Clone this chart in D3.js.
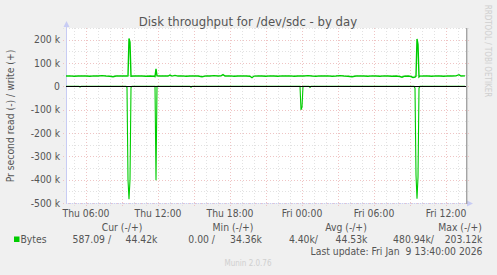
<!DOCTYPE html>
<html><head><meta charset="utf-8">
<script src="https://cdn.jsdelivr.net/npm/d3@7"></script>
<style>
html,body{margin:0;padding:0;background:#f0f0f0;}
svg{display:block;}
</style></head>
<body>
<svg id="c" width="497" height="275"></svg>
<script>
// ---- data (values in thousands of bytes per second; time = minutes after Thu 04:20) ----
const title = "Disk throughput for /dev/sdc - by day";
const yLabel = "Pr second read (-) / write (+)";
const yTickValues = [200, 100, 0, -100, -200, -300, -400, -500];
const yTickLabels = ["200 k", "100 k", "0", "-100 k", "-200 k", "-300 k", "-400 k", "-500 k"];
const xTickLabels = ["Thu 06:00", "Thu 12:00", "Thu 18:00", "Fri 00:00", "Fri 06:00", "Fri 12:00"];

const writeSeries = [
  [0,44],[20,45],[40,43],[60,44],[80,45],[100,44],[120,43],[140,45],[160,44],[180,46],
  [200,44],[220,43],[235,41],[250,44],[270,45],[290,44],[305,44],[310,45],[315,205],[320,190],
  [325,43],[340,44],[360,45],[380,44],[400,43],[420,44],[440,43],[445,42],[450,75],[455,45],
  [470,44],[490,45],[510,44],[520,48],[530,44],[545,47],[560,44],[580,45],[600,43],[620,44],
  [640,45],[660,44],[680,41],[700,45],[720,44],[740,46],[760,44],[775,45],[785,50],[795,44],
  [820,45],[840,43],[860,44],[880,45],[900,44],[920,43],[930,37],[940,44],[960,45],[980,44],
  [1000,43],[1020,45],[1040,44],[1060,43],[1080,45],[1100,44],[1120,45],[1140,43],[1160,44],[1175,45],
  [1190,44],[1210,46],[1230,44],[1250,43],[1270,45],[1290,44],[1310,45],[1330,43],[1350,44],[1370,46],
  [1390,44],[1410,43],[1430,41],[1450,44],[1470,45],[1490,44],[1510,43],[1530,45],[1550,44],[1570,43],
  [1590,45],[1610,44],[1630,43],[1650,44],[1670,42],[1680,39],[1690,43],[1710,44],[1725,42],[1735,38],
  [1745,40],[1750,44],[1755,203],[1760,180],[1765,40],[1770,44],[1790,45],[1810,44],[1830,43],[1850,45],
  [1870,44],[1890,43],[1910,45],[1930,44],[1950,45],[1965,50],[1975,44],[1995,45]
];
const readSeries = [
  [0,0],[65,0],[70,-3],[75,0],[300,0],[305,-5],[310,-400],[315,-484],[320,-400],[325,-5],
  [330,0],[445,0],[450,-403],[455,0],[620,0],[625,-4],[630,0],[1170,0],[1175,-101],[1180,-90],
  [1185,0],[1215,0],[1220,-5],[1225,0],[1740,0],[1745,-8],[1750,-380],[1755,-482],[1760,-390],[1765,-8],
  [1770,0],[1995,0]
];

const legendHeaders = ["Cur (-/+)", "Min (-/+)", "Avg (-/+)", "Max (-/+)"];
const legendName = "Bytes";
const legendRead = ["587.09 /", "0.00 /", "4.40k/", "480.94k/"];
const legendWrite = ["44.42k", "34.36k", "44.53k", "203.12k"];
const lastUpdate = "Last update: Fri Jan  9 13:40:00 2026";
const footer = "Munin 2.0.76";
const vendor = "RRDTOOL / TOBI OETIKER";

// ---- drawing ----
const FONT = "'DejaVu Sans Condensed','DejaVu Sans',sans-serif";
const svg = d3.select("#c");
const start = new Date(2026, 0, 8, 4, 20);
const end = new Date(2026, 0, 9, 13, 40);
const toDate = m => new Date(start.getTime() + m * 60000);

const L = 66, R = 466, T = 28, B = 203;
const x = d3.scaleTime().domain([start, end]).range([L, R]);
const y = d3.scaleLinear().domain([-500, 250]).range([B, T]);
const px = v => Math.round(v) + 0.5;

svg.append("rect").attr("width", 497).attr("height", 275).attr("fill", "#f0f0f0");
svg.append("rect").attr("x", L).attr("y", T).attr("width", R - L).attr("height", B - T).attr("fill", "#ffffff");

const MINOR = "#e2e2e2", MAJOR = "#efc4c4";
// horizontal grid
const yMinor = y.ticks(15);
svg.append("g").selectAll("line").data(yMinor).join("line")
  .attr("x1", L - 3).attr("x2", R + 3)
  .attr("y1", d => px(y(d))).attr("y2", d => px(y(d)))
  .attr("stroke", d => (d % 100 === 0 ? MAJOR : MINOR))
  .attr("stroke-width", 1).attr("stroke-dasharray", "1,2");
// vertical grid
const hours = x.ticks(d3.timeHour.every(1));
svg.append("g").selectAll("line").data(hours).join("line")
  .attr("x1", d => px(x(d))).attr("x2", d => px(x(d)))
  .attr("y1", T).attr("y2", B + 3)
  .attr("stroke", d => (d.getHours() % 3 === 0 ? MAJOR : MINOR))
  .attr("stroke-width", 1).attr("stroke-dasharray", "1,2");

// axes (light lavender) with arrows
const AX = "#c8ccf4";
svg.append("line").attr("x1", L + 0.5).attr("x2", L + 0.5).attr("y1", 24).attr("y2", B + 1).attr("stroke", AX);
svg.append("line").attr("x1", L).attr("x2", R + 2).attr("y1", B + 0.5).attr("y2", B + 0.5).attr("stroke", AX).attr("stroke-dasharray", "1,1");
svg.append("path").attr("d", `M${L - 2.5},${27} L${L + 0.5},${21} L${L + 3.5},${27} Z`).attr("fill", AX);
svg.append("path").attr("d", `M${R + 1},${B - 2.5} L${R + 7},${B + 0.5} L${R + 1},${B + 3.5} Z`).attr("fill", AX);

// data lines
const line = d3.line().x(d => x(toDate(d[0]))).y(d => y(d[1]));
svg.append("path").datum(readSeries).attr("d", line).attr("fill", "none").attr("stroke", "#00cc00").attr("stroke-width", 1.1);
svg.append("path").datum(writeSeries).attr("d", line).attr("fill", "none").attr("stroke", "#00cc00").attr("stroke-width", 1.4);

// zero line
svg.append("line").attr("x1", L).attr("x2", R).attr("y1", px(y(0))).attr("y2", px(y(0))).attr("stroke", "#000").attr("stroke-width", 1);
// right frame
svg.append("line").attr("x1", R + 0.7).attr("x2", R + 0.7).attr("y1", T).attr("y2", B + 1).attr("stroke", "#a4a4a4").attr("stroke-width", 1.4);

// y tick labels
svg.append("g").selectAll("text").data(yTickValues).join("text")
  .attr("x", 60).attr("y", d => y(d) + 3.8).attr("text-anchor", "end")
  .attr("font-family", FONT).attr("font-size", 10.3).attr("fill", "#555")
  .text((d, i) => yTickLabels[i]);

// x tick labels
const labelHours = hours.filter(d => d.getHours() % 6 === 0);
svg.append("g").selectAll("text").data(labelHours).join("text")
  .attr("x", d => x(d)).attr("y", 217).attr("text-anchor", "middle")
  .attr("font-family", FONT).attr("font-size", 10.3).attr("fill", "#555")
  .text((d, i) => xTickLabels[i]);

// title
svg.append("text").attr("x", 248).attr("y", 26).attr("text-anchor", "middle")
  .attr("font-family", FONT).attr("font-size", 13).attr("fill", "#555").text(title);

// y axis label
svg.append("text").attr("transform", "translate(14,116) rotate(-90)").attr("text-anchor", "middle")
  .attr("font-family", FONT).attr("font-size", 10.3).attr("fill", "#555").text(yLabel);

// vendor text
svg.append("text").attr("transform", "translate(484.5,51) rotate(90)").attr("text-anchor", "middle")
  .attr("font-family", FONT).attr("font-size", 8).attr("fill", "#cfcfcf").text(vendor);

// legend
const headerCenters = [122, 233, 346, 460];
svg.append("g").selectAll("text").data(legendHeaders).join("text")
  .attr("x", (d, i) => headerCenters[i]).attr("y", 231).attr("text-anchor", "middle")
  .attr("font-family", FONT).attr("font-size", 10.3).attr("fill", "#555").text(d => d);
svg.append("rect").attr("x", 14).attr("y", 236.5).attr("width", 5.5).attr("height", 5.5).attr("fill", "#00cc00");
svg.append("text").attr("x", 20.5).attr("y", 243).attr("font-family", FONT).attr("font-size", 10.3).attr("fill", "#555").text(legendName);
const readEnds = [111, 215, 318, 434];
const writeEnds = [157.5, 262, 367.5, 482.5];
svg.append("g").selectAll("text").data(legendRead).join("text")
  .attr("x", (d, i) => readEnds[i]).attr("y", 243).attr("text-anchor", "end")
  .attr("font-family", FONT).attr("font-size", 10.3).attr("fill", "#555").text(d => d);
svg.append("g").selectAll("text").data(legendWrite).join("text")
  .attr("x", (d, i) => writeEnds[i]).attr("y", 243).attr("text-anchor", "end")
  .attr("font-family", FONT).attr("font-size", 10.3).attr("fill", "#555").text(d => d);
svg.append("text").attr("x", 482.5).attr("y", 255).attr("text-anchor", "end")
  .attr("font-family", FONT).attr("font-size", 10.3).attr("fill", "#555").attr("xml:space", "preserve")
  .style("white-space", "pre").text(lastUpdate);
svg.append("text").attr("x", 248).attr("y", 265.5).attr("text-anchor", "middle")
  .attr("font-family", FONT).attr("font-size", 8).attr("fill", "#cfcfcf").text(footer);
</script>
</body></html>
